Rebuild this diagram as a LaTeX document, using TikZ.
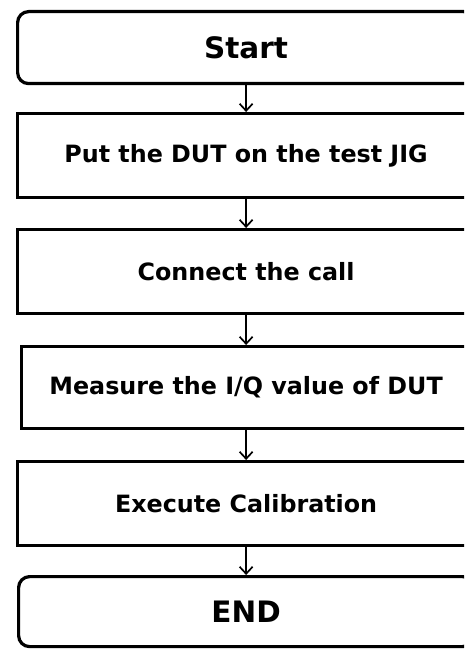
\documentclass[tikz,border=0pt]{standalone}
\usepackage{fontspec}
\setmainfont{DejaVu Sans}[BoldFont={DejaVu Sans Bold}]
\usetikzlibrary{arrows.meta}
\begin{document}
\begin{tikzpicture}[x=1pt,y=-1pt,
  stepbox/.style={draw, line width=3.2pt, rectangle, anchor=north west, inner sep=0pt,
    font=\bfseries\fontsize{23.8}{27}\selectfont},
  termbox/.style={stepbox, rounded corners=11pt, font=\bfseries\fontsize{29.5}{34}\selectfont},
  flow/.style={line width=1.7pt, -{Straight Barb[length=7pt,width=13pt,line width=1.7pt]}}]
\useasboundingbox (0,0) rectangle (464,650);
\clip (0,0) rectangle (464,650);
\fill[white] (0,0) rectangle (464,650);
\node[termbox, minimum width=457pt, minimum height=72pt] (s) at (16,10) {Start};
\node[stepbox, minimum width=457pt, minimum height=84pt] (b1) at (16,112) {Put the DUT on the test JIG};
\node[stepbox, minimum width=457pt, minimum height=84pt] (b2) at (16,228) {Connect the call};
\node[stepbox, minimum width=449pt, minimum height=82pt] (b3) at (20,345) {Measure the I/Q value of DUT};
\node[stepbox, minimum width=457pt, minimum height=84pt] (b4) at (16,460) {Execute Calibration};
\node[termbox, minimum width=455pt, minimum height=70pt] (e) at (17,575) {END};
\draw[flow] (s.south) -- (b1.north);
\draw[flow] (b1.south) -- (b2.north);
\draw[flow] (b2.south) -- (b3.north);
\draw[flow] (b3.south) -- (b4.north);
\draw[flow] (b4.south) -- (e.north);
\end{tikzpicture}
\end{document}
